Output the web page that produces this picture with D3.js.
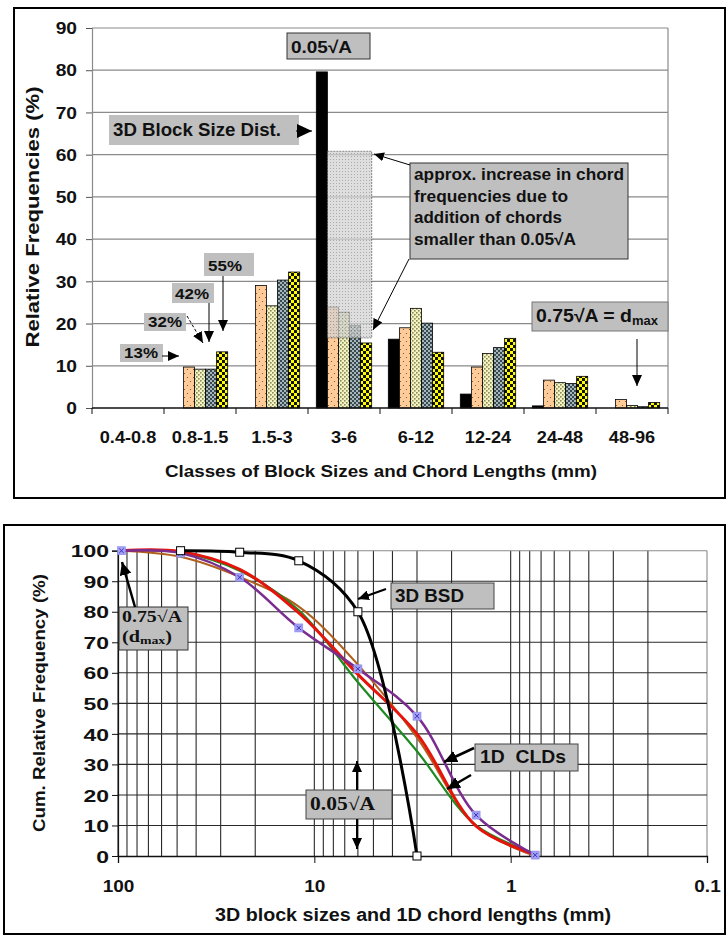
<!DOCTYPE html>
<html>
<head>
<meta charset="utf-8">
<script src="https://cdn.jsdelivr.net/npm/d3@7"></script>
<style>
  html, body { margin: 0; padding: 0; background: #fff; }
  svg { display: block; }
</style>
</head>
<body>
<svg id="fig" width="728" height="938"></svg>
<script>
// ---------- class frequencies (upper chart) ----------
const categories = ["0.4-0.8", "0.8-1.5", "1.5-3", "3-6", "6-12", "12-24", "24-48", "48-96"];
const seriesKeys = ["bsd", "cld13", "cld32", "cld42", "cld55"];
const bsd   = [0, 0, 0, 79.6, 16.3, 3.3, 0.5, 0];
const cld13 = [0, 9.7, 29.0, 23.9, 19.0, 9.7, 6.6, 2.0];
const cld32 = [0, 9.2, 24.2, 22.7, 23.6, 12.9, 6.0, 0.6];
const cld42 = [0, 9.2, 30.3, 19.5, 20.1, 14.3, 5.8, 0.3];
const cld55 = [0, 13.3, 32.2, 15.4, 13.2, 16.5, 7.5, 1.3];
const freqTicks = [0, 10, 20, 30, 40, 50, 60, 70, 80, 90];
const increaseClass = "3-6";
const increaseRange = [16.6, 60.8];

// ---------- cumulative distributions (lower chart) ----------
const bsdSizes = [48, 24, 12, 6, 3];
const bsdCum = [100, 99.5, 96.7, 80.0, 0];
const chordSizes = [96, 48, 24, 12, 6, 3, 1.5, 0.75];
const cum13 = [100, 98.0, 91.4, 81.7, 62.7, 38.8, 9.8, 0.0];
const cum32 = [100, 99.4, 93.4, 80.5, 56.9, 34.3, 10.0, 0.8];
const cum42 = [100, 99.7, 93.9, 79.6, 59.5, 40.0, 9.8, 0.5];
const cum55 = [100, 99.2, 91.3, 74.7, 61.3, 45.8, 13.4, 0.3];
const cumTicks = [0, 10, 20, 30, 40, 50, 60, 70, 80, 90, 100];
const sizeTicks = [100, 10, 1, 0.1];

const SANS = "'Liberation Sans', Arial, Helvetica, sans-serif";
const SERIF = "'Liberation Serif', 'Times New Roman', serif";
const BOXFILL = "#bfbfbf";

const svg = d3.select("#fig");
const defs = svg.append("defs");

// ---------- helpers ----------
function fit(t, width, sx) {
  if (!width && !sx) return t;
  const w = width || t.node().getComputedTextLength() * sx;
  t.attr("textLength", w).attr("lengthAdjust", "spacingAndGlyphs");
  return t;
}
function label(parent, x, y, str, o = {}) {
  const t = parent.append("text")
    .attr("x", x).attr("y", y)
    .attr("font-family", o.family || SANS)
    .attr("font-weight", o.weight || "bold")
    .attr("font-size", o.size || 16)
    .attr("text-anchor", o.anchor || "start")
    .attr("fill", o.fill || "#111");
  if (o.pre) t.style("white-space", "pre");
  t.text(str);
  return fit(t, o.width, o.sx);
}
function headMarker(id, len, wid) {
  defs.append("marker")
    .attr("id", id)
    .attr("markerUnits", "userSpaceOnUse")
    .attr("viewBox", `0 0 ${len} ${wid}`)
    .attr("refX", len).attr("refY", wid / 2)
    .attr("markerWidth", len).attr("markerHeight", wid)
    .attr("orient", "auto")
    .append("path")
    .attr("d", `M0,0L${len},${wid / 2}L0,${wid}Z`)
    .attr("fill", "#000");
}
headMarker("headS", 10, 9);
headMarker("headM", 11, 10);
headMarker("headL", 13, 12);
headMarker("headXL", 15, 14);

function arrow(parent, x1, y1, x2, y2, w, head, dash) {
  const l = parent.append("line")
    .attr("x1", x1).attr("y1", y1).attr("x2", x2).attr("y2", y2)
    .attr("stroke", "#000").attr("stroke-width", w)
    .attr("marker-end", `url(#${head})`);
  if (dash) l.attr("stroke-dasharray", dash);
  return l;
}
function box(parent, x, y, w, h, stroke) {
  const r = parent.append("rect")
    .attr("x", x).attr("y", y).attr("width", w).attr("height", h)
    .attr("fill", BOXFILL);
  if (stroke) r.attr("stroke", stroke).attr("stroke-width", 1);
  return r;
}

// ---------- fill patterns for the bars ----------
function pattern(id, w, h, bg, build) {
  const p = defs.append("pattern").attr("id", id)
    .attr("patternUnits", "userSpaceOnUse").attr("width", w).attr("height", h);
  p.append("rect").attr("width", w).attr("height", h).attr("fill", bg);
  build(p);
}
pattern("pDots", 6, 8, "#FFCC99", p => {
  p.append("circle").attr("cx", 1.5).attr("cy", 1.5).attr("r", 0.6).attr("fill", "#6b4c2e");
  p.append("circle").attr("cx", 4.5).attr("cy", 5.5).attr("r", 0.6).attr("fill", "#6b4c2e");
});
pattern("pKhaki", 4, 4, "#f4f4c2", p => {
  p.append("rect").attr("x", 0).attr("y", 0).attr("width", 1.6).attr("height", 1.6).attr("fill", "#8a8a58");
  p.append("rect").attr("x", 2).attr("y", 2).attr("width", 1.6).attr("height", 1.6).attr("fill", "#8a8a58");
});
pattern("pSlate", 4, 4, "#a3b6bb", p => {
  p.append("rect").attr("x", 0).attr("y", 0).attr("width", 2).attr("height", 2).attr("fill", "#3c4a4f");
  p.append("rect").attr("x", 2).attr("y", 2).attr("width", 2).attr("height", 2).attr("fill", "#3c4a4f");
});
pattern("pYellow", 6, 6, "#ffff00", p => {
  p.append("rect").attr("x", 0).attr("y", 0).attr("width", 3).attr("height", 3).attr("fill", "#111");
  p.append("rect").attr("x", 3).attr("y", 3).attr("width", 3).attr("height", 3).attr("fill", "#111");
});
pattern("pStipple", 3, 3, "#d2d2d2", p => {
  p.append("rect").attr("x", 0).attr("y", 0).attr("width", 1).attr("height", 1).attr("fill", "#8c8c8c");
});
const seriesFill = { bsd: "#000", cld13: "url(#pDots)", cld32: "url(#pKhaki)", cld42: "url(#pSlate)", cld55: "url(#pYellow)" };
const seriesValues = { bsd, cld13, cld32, cld42, cld55 };

// ---------- panel frames ----------
svg.append("rect").attr("x", 14).attr("y", 8).attr("width", 711).attr("height", 490)
  .attr("fill", "none").attr("stroke", "#000").attr("stroke-width", 2);
svg.append("rect").attr("x", 4).attr("y", 525).attr("width", 721).attr("height", 409)
  .attr("fill", "none").attr("stroke", "#000").attr("stroke-width", 2);

// =====================================================================
// Upper chart: relative frequencies per size class
// =====================================================================
const gTop = svg.append("g");
const xTop = d3.scaleBand().domain(categories).range([92, 668]);
const xSeries = d3.scaleBand().domain(seriesKeys).range([0, xTop.bandwidth()]).paddingOuter(0.75);
const yTop = d3.scaleLinear().domain([0, 90]).range([408, 28]);

// horizontal gridlines and plot border
gTop.append("g").selectAll("line").data(freqTicks.filter(d => d > 0)).join("line")
  .attr("x1", xTop.range()[0]).attr("x2", xTop.range()[1])
  .attr("y1", d => yTop(d)).attr("y2", d => yTop(d))
  .attr("stroke", "#8a8a8a").attr("stroke-width", 1.2);
gTop.append("line")
  .attr("x1", xTop.range()[1]).attr("x2", xTop.range()[1])
  .attr("y1", yTop(90)).attr("y2", yTop(0))
  .attr("stroke", "#8a8a8a").attr("stroke-width", 1.2);

// bars
const barData = categories.flatMap((c, i) => seriesKeys.map(k => ({ c, k, v: seriesValues[k][i] })))
  .filter(d => d.v > 0);
gTop.append("g").selectAll("rect").data(barData).join("rect")
  .attr("x", d => xTop(d.c) + xSeries(d.k))
  .attr("y", d => yTop(d.v))
  .attr("width", xSeries.bandwidth())
  .attr("height", d => yTop(0) - yTop(d.v))
  .attr("fill", d => seriesFill[d.k])
  .attr("stroke", "#000").attr("stroke-width", 0.8);

// stippled block: increase of chord frequencies in the 3-6 class
gTop.append("rect")
  .attr("x", xTop(increaseClass) + xSeries("cld13"))
  .attr("y", yTop(increaseRange[1]))
  .attr("width", xSeries("cld55") + xSeries.bandwidth() - xSeries("cld13"))
  .attr("height", yTop(increaseRange[0]) - yTop(increaseRange[1]))
  .attr("fill", "url(#pStipple)").attr("opacity", 0.72)
  .attr("stroke", "#555").attr("stroke-width", 1).attr("stroke-dasharray", "2,1");

// y axis
const yAxisTop = gTop.append("g").attr("transform", `translate(${xTop.range()[0]},0)`)
  .call(d3.axisLeft(yTop).tickValues(freqTicks).tickSize(6).tickPadding(9).tickFormat(d3.format("d")));
yAxisTop.select(".domain").attr("stroke", "#8a8a8a").attr("stroke-width", 1.2);
yAxisTop.selectAll(".tick line").attr("stroke", "#555");
yAxisTop.selectAll(".tick text")
  .attr("font-family", SANS).attr("font-weight", "bold").attr("font-size", 16)
  .attr("fill", "#111").attr("dy", "0.36em")
  .each(function () { fit(d3.select(this), null, 1.2); });

// x axis: category labels centred, ticks on class boundaries
const xAxisTop = gTop.append("g").attr("transform", `translate(0,${yTop(0)})`)
  .call(d3.axisBottom(xTop).tickSize(0));
xAxisTop.select(".domain").remove();
xAxisTop.selectAll(".tick text")
  .attr("font-family", SANS).attr("font-weight", "bold").attr("font-size", 16.5)
  .attr("fill", "#111").attr("y", 35).attr("dy", 0)
  .each(function () { fit(d3.select(this), null, 1.1); });
gTop.append("line").attr("x1", xTop.range()[0]).attr("x2", xTop.range()[1])
  .attr("y1", yTop(0)).attr("y2", yTop(0)).attr("stroke", "#111").attr("stroke-width", 1.3);
gTop.append("g").selectAll("line").data(categories.map(c => xTop(c)).concat([xTop.range()[1]])).join("line")
  .attr("x1", d => d).attr("x2", d => d)
  .attr("y1", yTop(0)).attr("y2", yTop(0) + 6)
  .attr("stroke", "#111").attr("stroke-width", 1);

// axis titles
label(gTop, 381, 477, "Classes of Block Sizes and Chord Lengths (mm)", { size: 16, anchor: "middle", width: 432 });
label(gTop.append("g").attr("transform", "translate(39,217) rotate(-90)"), 0, 0,
  "Relative Frequencies (%)", { size: 17.5, anchor: "middle", width: 261 });

// annotations
box(gTop, 287, 33, 83, 26, "#333");
label(gTop, 291, 53, "0.05√A", { size: 17, width: 61 });

box(gTop, 109, 115, 190, 30);
label(gTop, 113, 136, "3D Block Size Dist.", { size: 17.5, width: 168 });
arrow(gTop, 296, 131, 312, 131, 1, "headXL");

box(gTop, 410, 163, 218, 96, "#333");
[["approx. increase in chord", 180, 210],
 ["frequencies due to", 201.7, 154],
 ["addition of chords", 223.3, 148],
 ["smaller than 0.05√A", 245, 162]].forEach(([s, y, w]) =>
  label(gTop, 414, y, s, { size: 16.5, width: w }));
arrow(gTop, 410, 165, 374, 154, 1, "headS");
arrow(gTop, 409, 259, 373, 330, 1, "headM");

box(gTop, 204, 253, 50, 23);
label(gTop, 208, 271, "55%", { size: 15.5, width: 34 });
box(gTop, 172, 283, 42, 20);
label(gTop, 175, 299, "42%", { size: 15.5, width: 34 });
box(gTop, 144, 313, 42, 18);
label(gTop, 148, 327, "32%", { size: 15.5, width: 34 });
box(gTop, 120, 344, 43, 18);
label(gTop, 124, 358, "13%", { size: 15.5, width: 34 });
arrow(gTop, 162, 356, 179, 356, 1, "headM");
arrow(gTop, 187, 316, 203, 343, 1, "headM", "3,2");
arrow(gTop, 209, 303, 209, 342, 1, "headM");
arrow(gTop, 223, 276, 223, 331, 1, "headM");

box(gTop, 532, 302, 136, 29, "#777");
const dmaxTop = label(gTop, 536, 322, "0.75√A = d", { size: 18 });
dmaxTop.append("tspan").attr("font-size", 12).attr("dy", 3).text("max");
fit(dmaxTop, 122);
arrow(gTop, 637, 339, 637, 386, 1, "headM");

// =====================================================================
// Lower chart: cumulative relative frequency vs size (log, reversed)
// =====================================================================
const gBot = svg.append("g");
const xLog = d3.scaleLog().domain([100, 0.1]).range([118, 707]);
const yCum = d3.scaleLinear().domain([0, 100]).range([856, 550.7]);

// grid
gBot.append("g").selectAll("line").data(xLog.ticks()).join("line")
  .attr("x1", d => xLog(d)).attr("x2", d => xLog(d))
  .attr("y1", yCum(100)).attr("y2", yCum(0))
  .attr("stroke", d => (d === 0.1 ? "#8a8a8a" : "#2a2a2a")).attr("stroke-width", 1.1);
gBot.append("g").selectAll("line").data(cumTicks.filter(d => d > 0)).join("line")
  .attr("x1", xLog.range()[0]).attr("x2", xLog.range()[1])
  .attr("y1", d => yCum(d)).attr("y2", d => yCum(d))
  .attr("stroke", d => (d === 100 ? "#8a8a8a" : "#2a2a2a")).attr("stroke-width", 1.1);

// axes
const yAxisBot = gBot.append("g").attr("transform", `translate(${xLog.range()[0]},0)`)
  .call(d3.axisLeft(yCum).tickValues(cumTicks).tickSize(6).tickPadding(3).tickFormat(d3.format("d")));
yAxisBot.select(".domain").attr("stroke", "#111").attr("stroke-width", 1.2);
yAxisBot.selectAll(".tick line").attr("stroke", "#111");
yAxisBot.selectAll(".tick text")
  .attr("font-family", SANS).attr("font-weight", "bold").attr("font-size", 17)
  .attr("fill", "#111").attr("dy", "0.36em")
  .each(function () { fit(d3.select(this), null, 1.35); });

const xAxisBot = gBot.append("g").attr("transform", `translate(0,${yCum(0)})`)
  .call(d3.axisBottom(xLog).tickValues(sizeTicks).tickSize(7).tickFormat(d => String(d)));
xAxisBot.select(".domain").attr("stroke", "#111").attr("stroke-width", 1.3);
xAxisBot.selectAll(".tick line").attr("stroke", "#111");
xAxisBot.selectAll(".tick text")
  .attr("font-family", SANS).attr("font-weight", "bold").attr("font-size", 16.5)
  .attr("fill", "#111").attr("y", 36).attr("dy", 0)
  .each(function () { fit(d3.select(this), null, 1.15); });

label(gBot, 413, 921, "3D block sizes and 1D chord lengths (mm)", { size: 17.5, anchor: "middle", width: 396 });
label(gBot.append("g").attr("transform", "translate(45,703) rotate(-90)"), 0, 0,
  "Cum. Relative Frequency (%)", { size: 17, anchor: "middle", width: 258 });

// curves
const curve = d3.line().x(d => xLog(d[0])).y(d => yCum(d[1])).curve(d3.curveCatmullRom.alpha(0.5));
const pairs = (xs, ys) => xs.map((x, i) => [x, ys[i]]);
const cldSeries = [
  { name: "cld13", values: cum13, color: "#b0601c", width: 2 },
  { name: "cld32", values: cum32, color: "#1f8a1f", width: 2.2 },
  { name: "cld42", values: cum42, color: "#e5140c", width: 3 },
  { name: "cld55", values: cum55, color: "#7a2c8f", width: 2.5 }
];
gBot.append("g").selectAll("path").data(cldSeries).join("path")
  .attr("d", d => curve(pairs(chordSizes, d.values)))
  .attr("fill", "none").attr("stroke", d => d.color).attr("stroke-width", d => d.width)
  .attr("stroke-linejoin", "round");

// markers on the 55% curve
const m55 = gBot.append("g").selectAll("g").data(pairs(chordSizes, cum55)).join("g")
  .attr("transform", d => `translate(${xLog(d[0])},${yCum(d[1])})`);
m55.append("rect").attr("x", -4).attr("y", -4).attr("width", 8).attr("height", 8)
  .attr("fill", "#a3a0f4").attr("stroke", "#8a86ee").attr("stroke-width", 0.6);
m55.append("path").attr("d", "M-2.2,-2.2L2.2,2.2M-2.2,2.2L2.2,-2.2")
  .attr("stroke", "#3a32b8").attr("stroke-width", 1);

// 3D block size distribution
gBot.append("path").attr("d", curve(pairs(bsdSizes, bsdCum)))
  .attr("fill", "none").attr("stroke", "#000").attr("stroke-width", 3);
gBot.append("g").selectAll("rect").data(pairs(bsdSizes, bsdCum)).join("rect")
  .attr("x", d => xLog(d[0]) - 4).attr("y", d => yCum(d[1]) - 4)
  .attr("width", 8).attr("height", 8)
  .attr("fill", "#fff").attr("stroke", "#000").attr("stroke-width", 1);

// annotations
box(gBot, 119, 607, 69, 43, "#333");
label(gBot, 122, 622, "0.75√A", { size: 16, family: SERIF, width: 60 });
const dmaxBot = label(gBot, 122, 642, "(d", { size: 16, family: SERIF });
dmaxBot.append("tspan").attr("font-size", 11).attr("dy", 2).text("max");
dmaxBot.append("tspan").attr("dy", -2).text(")");
fit(dmaxBot, 50);
arrow(gBot, 135, 607, 122, 562, 2.5, "headL");

box(gBot, 391, 583, 103, 26, "#444");
label(gBot, 395, 602, "3D BSD", { size: 18, width: 69 });
arrow(gBot, 386, 589, 358, 599, 2, "headM");

box(gBot, 475, 744, 103, 27, "#444");
label(gBot, 480, 763, "1D  CLDs", { size: 18, width: 86, pre: true });
arrow(gBot, 474, 748, 444, 762, 2.5, "headL");
arrow(gBot, 471, 775, 447, 789, 2.5, "headL");

box(gBot, 306, 790, 86, 29, "#444");
label(gBot, 310, 810, "0.05√A", { size: 18, family: SERIF, width: 65 });
arrow(gBot, 357, 790, 357, 761, 2, "headM");
arrow(gBot, 357, 819, 357, 849, 2, "headM");
</script>
</body>
</html>
